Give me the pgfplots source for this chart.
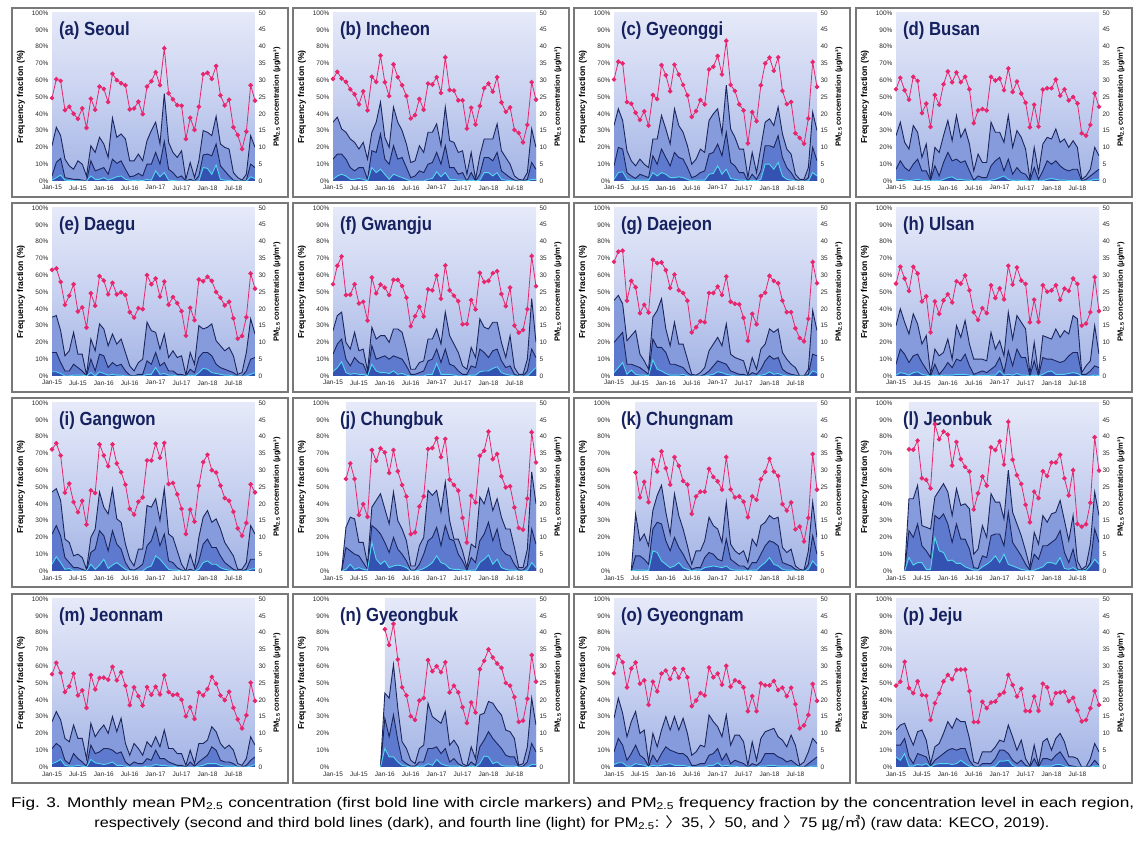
\documentclass[border=0pt]{standalone}
\usepackage{fontspec}
\setmainfont{Liberation Sans}
\newfontfamily\cjk{Noto Sans CJK KR}
\usepackage{pgfplots}
\pgfplotsset{compat=1.18}
\usepackage{pgfplotstable}
\usepackage{graphicx}

\definecolor{pinkc}{RGB}{232,38,110}
\definecolor{navyc}{RGB}{28,38,92}
\definecolor{cyanc}{RGB}{84,214,238}
\definecolor{f35}{RGB}{134,155,220}
\definecolor{f50}{RGB}{94,122,207}
\definecolor{f75}{RGB}{52,82,178}
\definecolor{bgtop}{RGB}{229,233,248}
\definecolor{bgmid}{RGB}{200,209,240}
\definecolor{bgbot}{RGB}{163,180,229}
\definecolor{titlec}{RGB}{22,34,96}
\definecolor{boxc}{RGB}{120,120,120}

\newcommand\rd[2]{\pgfplotstableread[row sep=\\]{y\\#2}#1}

% (a) Seoul
\rd\xaP{24.7\\30.3\\29.8\\21.1\\22.1\\20.0\\18.5\\21.6\\15.8\\24.5\\21.2\\28.1\\27.4\\23.5\\31.9\\30.0\\29.1\\28.5\\21.3\\21.6\\23.6\\19.9\\28.1\\29.7\\32.4\\28.5\\39.5\\26.1\\24.3\\22.6\\22.4\\12.5\\18.8\\15.2\\22.1\\31.8\\32.2\\30.4\\34.2\\25.5\\22.5\\24.2\\16.0\\13.7\\9.5\\14.7\\28.5\\23.9\\}
\rd\xaD{21\\32\\27\\13\\9\\7\\12\\10\\3\\21\\17\\26\\22\\14\\37.5\\26\\28\\25\\12\\12\\16\\12\\24\\30\\35\\22\\52\\23\\17\\14\\18\\1\\11\\2\\12\\30\\29\\27\\38.5\\22\\20\\19\\5\\2\\0.5\\4\\27\\20\\}
\rd\xaE{3\\11\\13.5\\2\\1.5\\1\\1\\0.5\\0\\12\\6\\7\\8\\4\\13\\10.5\\12\\7\\2.5\\3\\4.5\\3\\10\\10\\17\\10\\23.5\\7\\5\\2\\3\\0\\1\\0\\3\\15.5\\16\\15\\22\\9\\6\\3\\0.5\\0\\0\\0.5\\10\\8\\}
\rd\xaF{0.5\\2\\3.5\\0.5\\0.3\\0.2\\0\\0\\0\\3\\1\\1\\2\\0.5\\1.5\\2.5\\3\\1\\0.5\\0.3\\0.5\\0.2\\1\\0.5\\6\\2.5\\5\\0.5\\0.3\\0\\0\\0\\0\\0\\0\\8\\7.5\\4\\9.5\\1\\0.5\\0.3\\0\\0\\0\\0\\2.5\\1.5\\}
% (b) Incheon
\rd\xbP{30.4\\32.5\\30.5\\29.5\\27.3\\25.8\\22.8\\26.7\\21.0\\31.0\\29.5\\37.3\\29.4\\25.3\\34.7\\30.9\\28.5\\25.3\\18.6\\19.6\\24.4\\21.2\\29.0\\28.7\\30.9\\26.2\\36.8\\27.1\\26.9\\24.0\\24.0\\15.6\\21.8\\16.8\\22.3\\27.6\\29.0\\26.6\\30.9\\23.4\\20.6\\21.9\\15.2\\14.3\\11.5\\16.7\\29.4\\24.2\\}
\rd\xbD{35\\38\\31\\29\\25\\23\\19\\23\\13\\29\\35\\47\\26\\20\\44\\35\\30\\22\\11\\12\\21\\17\\29\\29\\34\\21\\44\\24\\23\\17\\18\\4\\17\\1\\15\\25\\25\\25\\34\\18\\14\\10\\3\\1\\0.5\\5\\31\\20\\}
\rd\xbE{13\\16\\16\\13\\8\\6\\8\\8\\1\\18\\17\\28\\13\\10\\21\\13\\14\\8\\2\\3\\6\\5\\10\\11\\17\\10\\21\\8\\8\\4\\5\\0\\5\\0\\4\\14\\14\\12\\17\\6\\4\\2\\0.5\\0\\0\\1\\11\\7\\}
\rd\xbF{1\\3\\4\\3\\1\\1\\1.5\\1\\0\\8\\5\\7\\4\\1\\4\\3\\2\\1\\0\\0\\0\\0\\1\\1.5\\5.5\\2.5\\5\\1\\1\\0.5\\0.5\\0\\0.5\\0\\0.5\\5\\5\\3\\5\\1\\0.5\\0.2\\0\\0\\0\\0\\1\\1\\}
% (c) Gyeonggi
\rd\xcP{30.2\\35.5\\35\\23.5\\23\\20.3\\18.2\\20.7\\16.5\\25.6\\24.4\\34.5\\31.5\\26.7\\34.6\\31.7\\28.6\\25.5\\19.1\\20.8\\24.1\\22.8\\33.2\\34.0\\37.2\\31.7\\41.7\\28.6\\26.8\\22.8\\21.0\\11.2\\20.5\\17.8\\28.5\\35.0\\36.7\\32.8\\36.8\\26.8\\22.9\\23.5\\14.2\\12.8\\11.1\\18.6\\35.4\\28.0\\}
\rd\xcD{33\\43\\36\\18\\12\\9\\13\\10\\8\\25\\25\\39\\31\\22\\43\\33\\29\\21\\10\\13\\19\\17\\36\\40\\43\\28\\57\\31\\26\\19\\19\\2\\17\\5\\20\\35\\37\\33\\44\\28\\19\\16\\4\\1\\1\\8\\41\\30\\}
\rd\xcE{9\\20\\19\\5\\3\\1.5\\4\\3\\2\\15\\10\\19\\14\\9\\17\\14\\13\\8\\2\\3\\5\\6\\16\\17\\22\\15\\29\\11\\9\\5\\5\\0\\4\\1\\6\\21\\21\\20\\27\\14\\8\\5\\1\\0\\0\\2\\20\\12\\}
\rd\xcF{1\\5\\5.5\\1\\0.5\\0.5\\0.5\\0.5\\0.5\\5\\3\\5\\4\\2\\2\\2.5\\2\\1\\0\\0.5\\0.5\\0.5\\4\\4.5\\9\\4\\7\\1.5\\1\\0.5\\0.5\\0\\0.5\\0\\1\\10\\10\\7\\11\\3\\1\\0.5\\0\\0\\0\\0\\5\\3\\}
% (d) Busan
\rd\xdP{27.3\\30.7\\27\\24.2\\31.0\\29.8\\20.2\\23.0\\16.1\\25.6\\22.7\\28.8\\32.6\\29.4\\32.3\\29.4\\31.0\\27.3\\17.2\\21.0\\21.4\\21.0\\31.0\\29.9\\30.5\\27.0\\33.5\\26.5\\29.6\\26.0\\23.3\\16.0\\22.7\\16.2\\27.2\\27.6\\27.6\\30.2\\25.4\\27.3\\24.0\\25.0\\23.1\\14.2\\13.5\\16.7\\26.1\\22.1\\}
\rd\xdD{27\\35\\23\\19\\33\\29\\14\\22\\1\\20\\17\\27\\36\\24\\39\\26\\31\\22\\6\\16\\11\\11\\35\\29\\29\\23\\39\\20\\30\\26\\19\\1\\20\\5\\22\\26\\25\\31\\23\\25\\20\\24\\20\\1\\3\\7\\20\\15\\}
\rd\xdE{7\\12\\8\\6\\10\\13\\6\\6\\0.5\\9\\3\\11\\17\\12\\13\\11\\12\\6\\0.5\\3\\2\\2\\9\\12\\14\\6\\13\\4\\8\\5\\4\\0\\8\\1\\6\\12\\10\\12\\9\\7\\6\\7\\7\\0\\1\\3\\5\\7\\}
\rd\xdF{0.5\\1\\0.5\\0.2\\0.5\\1\\0.5\\0.2\\0\\0.5\\0\\1\\2\\2.5\\1\\1\\0.5\\0.5\\0\\0.2\\0\\0\\0.5\\1\\2\\3\\1\\0.3\\0.5\\0.3\\0.2\\0\\0.5\\0\\0.2\\1\\1.5\\1\\0.5\\0.5\\0.3\\0.2\\0.2\\0\\0\\0.2\\1\\1\\}
% (e) Daegu
\rd\xeP{31.6\\32.0\\28\\21.2\\23.9\\27.3\\19.2\\20.4\\14.4\\24.6\\20.9\\29.7\\28.4\\24.3\\27.7\\24.3\\24.9\\24.1\\19.0\\17.4\\20.2\\19.9\\30.0\\27.3\\29.0\\23.6\\28.1\\21.2\\23.5\\21.7\\19.3\\12.0\\20.3\\16.6\\28.7\\28.2\\29.5\\28.3\\25.0\\23.3\\21.0\\22.1\\17.2\\11.1\\11.9\\17.5\\30.5\\26.0\\}
\rd\xeD{35\\36\\27\\12\\15\\26\\13\\13\\0.5\\22\\15\\31\\28\\18\\25\\19\\22\\14\\6\\3\\8\\10\\32\\27\\26\\16\\25\\11\\15\\11\\12\\0.5\\14\\7\\30\\28\\29\\31\\21\\18\\15\\17\\12\\1\\2\\14\\34\\25\\}
\rd\xeE{14\\14\\8\\3\\3\\7\\5\\3\\0\\10\\3\\13\\12\\5\\8\\6\\7\\3\\0.5\\0\\1\\1\\9\\7\\14\\6\\8\\3\\3\\1\\1\\0\\4\\2\\11\\14\\14\\12\\7\\5\\4\\3\\2\\0\\0\\3\\10\\11\\}
\rd\xeF{2.5\\2.5\\1.5\\0\\0\\0.5\\0.5\\0.5\\0\\2\\0\\2.5\\1.5\\0.5\\1\\0.5\\0.5\\0\\0\\0\\0\\0\\1\\1\\5\\1\\1.5\\0.5\\0.5\\0\\0\\0\\0.5\\0\\2\\4.5\\4\\2\\1.5\\1\\0.5\\0.5\\0\\0\\0\\0\\1\\2\\}
% (f) Gwangju
\rd\xfP{27.3\\32.8\\35.6\\24.1\\24.2\\27.3\\21.6\\22.1\\16.5\\29.3\\24.6\\27.2\\26.3\\24.1\\28.6\\28.6\\26.8\\23.3\\14.8\\17.8\\20.6\\17.7\\25.8\\25.5\\29.9\\23.0\\32.9\\25.5\\23.9\\22.3\\15.4\\15.5\\22.6\\19.8\\30.7\\28.0\\28.3\\30.6\\31.2\\24.4\\20.8\\26.3\\15.0\\12.9\\13.7\\19.9\\35.7\\26.7\\}
\rd\xfD{27\\36\\38\\20\\16\\26\\15\\16\\3\\29\\22\\24\\24\\20\\28\\28\\26\\16\\4\\4\\8\\9\\22\\22\\28\\19\\38\\24\\19\\14\\6\\4\\17\\11\\34\\29\\28\\32\\32\\20\\11\\24\\5\\1\\1\\10\\46\\20\\}
\rd\xfE{13\\19\\22\\10\\6\\11\\8\\7\\1\\18\\10\\11\\12\\10\\12\\11\\10\\6\\1\\1\\2\\3\\9\\10\\16\\8\\16\\7\\6\\3\\1\\1\\6\\5\\16\\14\\11\\15\\16\\9\\5\\6\\1\\0\\0\\3\\16\\11\\}
\rd\xfF{2.5\\5\\8.5\\2\\1\\1.5\\1\\1\\0\\7\\3\\2\\2\\1.5\\3\\1\\1.5\\0.5\\0\\0\\0\\0\\1\\1\\7.5\\1\\1\\1\\0.5\\0\\0\\0\\0.5\\0.5\\2.5\\3\\3\\4.5\\5.5\\2\\1\\0.5\\0\\0\\0\\0\\2.5\\5\\}
% (g) Daejeon
\rd\xgP{34.0\\37.0\\37.3\\22.4\\28.3\\26.4\\18.7\\21.2\\18.9\\34.6\\33.6\\33.8\\31.5\\26.2\\30.2\\25.5\\24.7\\22.4\\13.0\\14.5\\16.3\\16.0\\24.7\\24.7\\26.6\\24.1\\29.6\\22.1\\21.5\\21.3\\17.3\\10.5\\18.5\\15.4\\23.8\\24.8\\29.8\\28.3\\27.6\\22.4\\19.0\\19.0\\14.2\\11.3\\10.3\\17.0\\33.9\\27.6\\}
\rd\xgD{45\\48\\43\\21\\24\\27\\13\\9\\4\\35\\39\\46\\28\\18\\32\\19\\19\\10\\1\\0.5\\2\\5\\15\\19\\23\\18\\31\\13\\11\\10\\9\\0.5\\11\\4\\16\\19\\28\\26\\28\\14\\10\\7\\5\\0\\0\\4\\39\\27\\}
\rd\xgE{20\\23\\26\\7\\7\\6\\5\\3\\1\\22\\17\\17\\14\\7\\7\\6\\5\\2\\0\\0\\0\\1\\3\\6\\9\\8\\7\\3\\2\\1\\1\\0\\2\\1\\4\\9\\12\\10\\11\\4\\2\\1\\0.5\\0\\0\\1\\13\\12\\}
\rd\xgF{2\\5\\8\\1\\3.5\\1\\0.5\\0.5\\0\\9.5\\4\\3\\1.5\\0.5\\0.5\\0.5\\1\\0\\0\\0\\0\\0\\0.5\\1\\2.5\\2\\1\\0.5\\0\\0\\0\\0\\0\\0\\0.5\\1\\2.5\\1\\1.5\\0.5\\0\\0\\0\\0\\0\\0\\3\\2\\}
% (h) Ulsan
\rd\xhP{27.5\\32.5\\29\\25.3\\32.5\\30.5\\22.2\\23.7\\13.0\\22.2\\18.5\\22.5\\24.3\\21.9\\28.2\\27.5\\29.9\\25.5\\19.0\\16.7\\20.2\\18.7\\27.0\\23.2\\26.1\\22.8\\32.8\\27.2\\32.3\\28.4\\27.4\\16.0\\22.7\\16.1\\27.0\\25.1\\25.5\\27.0\\22.7\\26.0\\25.3\\29.0\\27.4\\15.0\\15.6\\19.0\\29.4\\19.3\\}
\rd\xhD{30\\40\\32\\25\\37\\31\\19\\24\\1\\16\\12\\14\\22\\10\\30\\23\\33\\19\\10\\10\\10\\9\\26\\16\\21\\12\\38\\22\\36\\32\\28\\1\\20\\1\\24\\23\\22\\28\\23\\27\\25\\36\\34\\2\\6\\9\\30\\13\\}
\rd\xhE{7\\16\\13\\8\\12\\13\\8\\4\\0\\7\\1\\4\\8\\5\\10\\9\\13\\6\\1\\2\\3\\2\\4\\6\\11\\2\\15\\6\\16\\11\\11\\0\\9\\0\\11\\10\\10\\9\\8\\9\\12\\14\\14\\1\\1\\3\\6\\5\\}
\rd\xhF{0.5\\2\\1.5\\0.5\\2\\2.5\\1\\0.5\\0\\0.5\\0\\0.5\\0.5\\0.5\\1\\1\\1\\0.5\\0\\0.2\\0.2\\0.2\\0.5\\0.5\\3\\0.5\\1\\0.5\\1.5\\0.5\\0.5\\0\\0.5\\0\\1\\2.5\\3\\1\\1\\1\\1.5\\2\\1.5\\0\\0\\0\\0.5\\0.3\\}
% (i) Gangwon
\rd\xiP{36.2\\38.0\\34.4\\23.3\\26.0\\20.5\\17.5\\20.9\\13.8\\24.0\\23.2\\37.7\\34.4\\31.2\\37.7\\32.0\\29.4\\25.7\\18.5\\16.8\\20.6\\21.9\\32.9\\32.9\\37.9\\33.7\\38.1\\25.9\\26.2\\22.8\\18.5\\11.0\\18.3\\14.7\\25.4\\32.4\\34.6\\30.0\\29.3\\25.4\\21.7\\20.9\\17.6\\12.7\\10.5\\14.3\\25.8\\23.4\\}
\rd\xiD{47\\49\\42\\19\\17\\9\\10\\8\\1\\20\\25\\47\\38\\34\\49\\31\\29\\16\\7\\3\\13\\13\\39\\38\\43\\30\\49\\22\\20\\12\\4\\0\\10\\2\\20\\32\\36\\29\\31\\25\\17\\13\\9\\1\\1\\5\\27\\22\\}
\rd\xiE{22\\27\\21\\8\\5\\2\\2\\1\\0\\11\\13\\24\\21\\12\\24\\16\\13\\5\\1\\0.5\\2\\4\\15\\18\\26\\15\\22\\6\\5\\2\\0.5\\0\\1\\0\\6\\16\\19\\14\\14\\9\\5\\3\\1\\0\\0\\1\\7\\7\\}
\rd\xiF{4\\8.5\\5\\1\\1.5\\0\\0\\0\\0\\4\\1\\3.5\\7\\1.5\\3.5\\5\\3\\1\\0\\0\\0\\0\\2\\3\\9\\7\\4\\1\\0.5\\0.5\\0\\0\\0\\0\\1\\5\\6\\4\\4\\2\\1\\0.5\\0\\0\\0\\0\\1\\1.5\\}
% (j) Chungbuk  (from Apr-15)
\rd\xjP{27.4\\32.0\\27.4\\16.7\\19.9\\16.1\\36.0\\32.8\\36.5\\35.3\\29.2\\36.0\\29.7\\25.6\\22.2\\11.0\\11.5\\19.2\\22.2\\36.3\\36.6\\39.5\\33.9\\39.3\\27.2\\25.6\\23.9\\15.8\\8.5\\22.4\\20.4\\34.3\\35.8\\41.5\\33.3\\34.8\\28.2\\24.9\\25.2\\18.9\\12.8\\12.3\\21.6\\41.3\\32.3\\}
\rd\xjD{0\\0\\0\\26\\32\\31\\17\\17\\4\\38\\42\\46\\37\\28\\47\\30\\25\\18\\3\\3\\15\\20\\48\\45\\48\\35\\53\\30\\19\\19\\12\\2\\16\\14\\44\\40\\49\\36\\43\\32\\25\\25\\14\\2\\2\\13\\59\\40\\}
\rd\xjE{0\\0\\0\\14\\12\\10\\9\\5\\1\\27\\25\\22\\17\\11\\20\\13\\10\\6\\0.5\\0.5\\4\\10\\18\\20\\26\\15\\27\\19\\18\\10\\6\\0.5\\8\\5\\18\\22\\29\\18\\25\\13\\10\\9\\4\\0.5\\0.5\\3\\25\\16\\}
\rd\xjF{0\\0\\0\\1\\4\\1\\2\\1\\0.5\\17\\7\\4\\6\\2\\3\\3.5\\3\\2\\0\\0\\0.5\\1.5\\3\\5\\9\\5\\4\\1.5\\1\\1\\0.5\\0\\0.5\\0.5\\5\\7\\9.5\\4\\7\\2\\1\\0.5\\0.5\\0\\0\\0.5\\5\\2\\}
% (k) Chungnam (from Jun-15)
\rd\xkP{29.3\\21.9\\26.5\\20.5\\33.1\\29.6\\35.6\\30.6\\25.7\\33.9\\31.3\\26.8\\25.7\\17.0\\22.2\\23.6\\23.6\\30.4\\28.0\\26.7\\24.2\\33.9\\24.3\\21.9\\22.2\\20.6\\16.0\\22.2\\21.2\\27.3\\29.5\\33.4\\29.6\\28.3\\19.9\\18.0\\20.4\\12.4\\13.2\\8.8\\15.8\\34.8\\24.2\\}
\rd\xkD{0\\0\\0\\0\\0\\34\\18\\22\\15\\36\\45\\51\\35\\22\\46\\33\\25\\15\\4\\12\\12\\18\\32\\27\\25\\17\\41\\16\\12\\10\\12\\5\\19\\15\\27\\29\\33\\31\\32\\14\\11\\13\\3\\1\\0.5\\12\\41\\20\\}
\rd\xkE{0\\0\\0\\0\\0\\9\\9\\7\\4\\25\\29\\28\\18\\12\\20\\14\\10\\5\\1\\2\\2\\8\\11\\10\\7\\6\\19\\7\\5\\3\\3\\1\\5\\5\\10\\15\\18\\17\\15\\5\\4\\3\\1\\0\\0\\4\\21\\10\\}
\rd\xkF{0\\0\\0\\0\\0\\0.5\\0.5\\0.5\\0.2\\12\\11\\6\\4\\2\\3\\5\\2\\1\\0\\0.5\\0.5\\2\\2.5\\3\\2.5\\2\\3\\1\\0.5\\0.5\\0.5\\0\\0.5\\0.5\\3\\5\\8\\4\\3\\1\\0.5\\0.5\\0\\0\\0\\1\\6\\3\\}
% (l) Jeonbuk (from Apr-15)
\rd\xlP{36.2\\36.1\\38.8\\27.6\\27.1\\24.6\\43.7\\39.2\\41.5\\40.6\\31.4\\38.4\\33.3\\31.0\\29.6\\18.3\\23.1\\28.1\\25.4\\36.8\\36.0\\38.6\\31.7\\44.4\\33.1\\28.5\\25.9\\19.7\\14.5\\23.6\\21.7\\29.7\\28.3\\32.3\\32.3\\34.6\\27.6\\22.5\\30.0\\14.0\\13.2\\13.9\\20.3\\39.8\\29.9\\}
\rd\xlD{0\\0\\0\\43\\43\\51\\27\\26\\25\\44\\48\\52\\47\\33\\49\\39\\40\\37\\10\\13\\27\\20\\46\\41\\41\\31\\60\\35\\28\\21\\12\\2\\23\\16\\33\\29\\34\\35\\42\\30\\18\\33\\6\\1\\3\\16\\47\\33\\}
\rd\xlE{0\\0\\0\\24\\20\\28\\15\\12\\8\\33\\31\\34\\28\\17\\28\\19\\19\\13\\2\\1.5\\9\\8\\21\\22\\22\\15\\35\\17\\13\\9\\4\\0.5\\10\\7\\15\\15\\17\\19\\24\\11\\5\\13\\1\\0.5\\1\\5\\25\\17\\}
\rd\xlF{0\\0\\0\\8\\3.5\\5\\5\\1\\1\\20\\12\\11\\6\\6.5\\4.5\\4.5\\2.5\\1.5\\0.5\\0.5\\2.5\\4\\6\\9\\5\\10\\4\\3\\2\\1\\0.5\\0\\0.5\\1.5\\2.5\\5\\5\\4\\8\\1.5\\1\\2\\0.5\\0\\0.5\\3\\7\\4\\}
% (m) Jeonnam
\rd\xmP{27.6\\31.0\\28\\22.3\\24.0\\27.8\\21.3\\22.8\\17.6\\27.4\\23.1\\26.5\\26.6\\26.0\\29.8\\25.8\\28.2\\24.2\\18.4\\23.7\\21.1\\18.3\\23.8\\21.5\\23.9\\21.6\\27.3\\22.3\\21.4\\21.6\\20.0\\15.1\\17.8\\14.3\\22.2\\21.3\\23.2\\26.8\\24.8\\21.3\\19.9\\22.4\\17.6\\14.2\\11.5\\15.4\\25.1\\19.7\\}
\rd\xmD{27\\33\\28\\17\\15\\25\\17\\17\\5\\26\\18\\22\\25\\20\\30\\21\\29\\14\\7\\14\\11\\7\\15\\12\\18\\12\\22\\11\\11\\8\\8\\1\\10\\2\\14\\14\\16\\24\\21\\14\\11\\13\\10\\2\\1\\5\\18\\13\\}
\rd\xmE{11\\14\\12\\4\\2\\8\\5\\3\\0.5\\13\\8\\9\\11\\11\\10\\8\\9\\3\\1\\3\\2\\2\\5\\4\\10\\5\\5\\3\\2\\1\\1\\0\\3\\0.5\\3\\5\\7\\12\\10\\4\\3\\3\\2\\0\\0\\1\\4\\6\\}
\rd\xmF{2\\3\\4.5\\1\\0.5\\0.5\\1\\0.5\\0\\4.5\\2.5\\2\\1.5\\2\\3\\1\\1\\0.5\\0\\0\\0\\0\\0.5\\0.5\\1.5\\1\\1\\0.5\\0.5\\0\\0\\0\\0\\0\\0.5\\1\\2\\2\\2\\1\\0.5\\0.5\\0.5\\0\\0\\0\\0.5\\1.5\\}
% (n) Gyeongbuk (from Jan-16)
\rd\xnP{41.0\\36.3\\42.6\\32.0\\23.7\\21.3\\15.1\\14.0\\19.8\\20.5\\31.8\\28.5\\30.0\\28.2\\31.2\\22.2\\24.2\\22.2\\17.8\\13.1\\19.2\\16.2\\29.1\\31.6\\35.0\\32.6\\30.8\\29.5\\25.0\\24.2\\20.8\\13.4\\13.8\\20.3\\33.3\\25.4\\}
\rd\xnD{0\\0\\0\\0\\0\\0\\0\\0\\0\\0\\0\\0\\44\\41\\61\\35\\15\\11\\4\\2\\11\\13\\38\\30\\28\\26\\33\\13\\16\\12\\2\\0.5\\12\\5\\31\\32\\39\\38\\34\\31\\22\\21\\17\\1\\2\\12\\41\\25\\}
\rd\xnE{0\\0\\0\\0\\0\\0\\0\\0\\0\\0\\0\\0\\29\\18\\31\\16\\4\\2\\0.5\\0.5\\3\\3\\11\\11\\12\\8\\11\\3\\5\\2\\0.5\\0\\3\\1\\12\\16\\21\\17\\14\\11\\7\\6\\6\\0\\0.5\\3\\14\\9\\}
\rd\xnF{0\\0\\0\\0\\0\\0\\0\\0\\0\\0\\0\\0\\11\\6\\6\\3\\1\\0.5\\0\\0\\0.5\\0.5\\2\\1\\4.5\\2\\1\\0.5\\0.5\\0.5\\0\\0\\0.5\\0\\2\\6.5\\6\\2\\3\\1\\0.5\\0.5\\0.5\\0\\0\\0\\1.5\\1.5\\}
% (o) Gyeongnam
\rd\xoP{27.9\\33.1\\31.2\\23.7\\29.3\\31.1\\24.8\\25.8\\18.5\\25.4\\22.5\\27.8\\28.7\\26.2\\29.3\\26.6\\29.2\\26.7\\18.1\\19.8\\22.0\\21.3\\29.6\\26.7\\27.8\\24.5\\30.1\\23.9\\25.8\\25.3\\23.7\\16.6\\21.1\\16.6\\24.9\\24.3\\24.3\\25.6\\22.9\\23.6\\21.1\\23.6\\18.7\\11.5\\12.4\\15.5\\24.7\\19.7\\}
\rd\xoD{29\\41\\32\\18\\27\\33\\20\\22\\3\\20\\12\\22\\30\\22\\30\\22\\29\\20\\7\\9\\13\\12\\31\\27\\24\\18\\31\\13\\19\\19\\15\\1\\15\\4\\17\\21\\22\\23\\18\\16\\12\\19\\13\\1\\3\\9\\17\\14\\}
\rd\xoE{9\\17\\13\\4\\8\\13\\7\\5\\0.5\\7\\3\\8\\12\\10\\9\\8\\8\\6\\1\\1\\2\\2\\7\\8\\11\\4\\8\\2\\4\\3\\2\\0\\2\\1\\3\\8\\8\\8\\6\\5\\3\\4\\2\\0\\0\\2\\4\\6\\}
\rd\xoF{1.5\\2.5\\2.5\\0.5\\0.5\\2\\1.5\\1\\0\\1\\0.5\\1\\1.5\\2\\1\\1\\1\\0.5\\0\\0\\0\\0\\1\\1\\2.5\\0.5\\1\\0.5\\0.5\\0\\0\\0\\0\\0\\0.5\\0.5\\1\\1\\0.5\\0.5\\0.5\\0.5\\0.5\\0\\0\\0\\0.5\\0.5\\}
% (p) Jeju
\rd\xpP{24.2\\25.4\\31.3\\23.5\\22.0\\25.5\\21.4\\21.2\\14.0\\19.0\\21.9\\25.5\\27.4\\26.1\\28.9\\29.0\\29.0\\22.6\\13.4\\13.4\\19.4\\17.5\\19.2\\19.5\\21.5\\22.2\\27.4\\24.4\\21.0\\23.3\\16.7\\16.6\\21.0\\16.7\\24.8\\23.7\\18.8\\22.0\\22.2\\22.4\\19.6\\20.6\\16.9\\13.6\\14.0\\17.5\\22.6\\18.5\\}
\rd\xpD{22\\25\\26\\19\\13\\21\\22\\16\\2\\12\\14\\20\\27\\23\\29\\27\\27\\17\\3\\2\\9\\9\\9\\12\\16\\15\\25\\18\\10\\16\\5\\0.5\\13\\1\\15\\17\\10\\17\\20\\15\\6\\6\\5\\0\\0\\5\\14\\9\\}
\rd\xpE{13\\13\\17\\6\\2\\8\\7\\6\\0.5\\4\\6\\8\\10\\11\\10\\11\\11\\4\\0.5\\0\\2\\2\\2\\5\\10\\10\\8\\4\\2\\4\\1\\0\\5\\0\\5\\5\\4\\7\\9\\5\\1\\0.5\\0\\0\\0\\0.5\\4\\1\\}
\rd\xpF{6\\4\\8\\0.5\\0.5\\1.5\\1\\2\\0\\1.5\\2\\2\\2\\1.5\\2\\4\\2\\0.5\\0\\0\\0\\0\\0\\0.5\\3.5\\3.5\\4\\1\\0\\0\\0\\0\\0\\0\\0.5\\0.5\\0.5\\1.5\\1.5\\0.5\\0\\0\\0\\0\\0\\0\\0.5\\0.5\\}

\pgfplotsset{
  pan/.style={anchor=south west, scale only axis, width=203pt, height=168pt,
    xmin=0, xmax=47, axis line style={draw=none}, tick style={draw=none},
    /pgf/number format/assume math mode=true,
    tick label style={font=\fontsize{6.5}{7}\selectfont, text=black!85}},
  lefta/.style={pan, ymin=0, ymax=100, ytick={0,10,...,100},
    yticklabel={\pgfmathprintnumber{\tick}\%},
    xtick={0,6,...,42},
    xticklabels={Jan-15,Jul-15,Jan-16,Jul-16,Jan-17,Jul-17,Jan-18,Jul-18},
    xticklabel style={yshift=-1pt},
    ylabel={Frequency fraction (\%)},
    ylabel style={font=\bfseries\fontsize{8.6}{9}\selectfont,
      at={(axis description cs:-0.153,0.5)}, anchor=center}},
  righta/.style={pan, ymin=0, ymax=50, ytick={0,5,...,50},
    axis x line=none, axis y line*=right,
    ylabel={PM\textsubscript{2.5} concentration (μg/m³)},
    ylabel style={font=\bfseries\fontsize{7.6}{8}\selectfont,
      at={(axis description cs:1.108,0.5)}, anchor=center}},
}

\newcommand\panel[8]{%
\begin{axis}[lefta, at={(#1pt,#2pt)}]
  \fill[top color=bgtop, bottom color=bgbot, middle color=bgmid] (axis cs:#4,0) rectangle (axis cs:47,100);
  \addplot[draw=none, fill=f35, restrict x to domain=\the\numexpr#4-1\relax:47] table[x expr=\coordindex, y=y] {#6} \closedcycle;
  \addplot[draw=none, fill=f50, restrict x to domain=\the\numexpr#4-1\relax:47] table[x expr=\coordindex, y=y] {#7} \closedcycle;
  \addplot[draw=none, fill=f75, restrict x to domain=\the\numexpr#4-1\relax:47] table[x expr=\coordindex, y=y] {#8} \closedcycle;
  \addplot[navyc, line width=0.9pt, restrict x to domain=\the\numexpr#4-1\relax:47] table[x expr=\coordindex, y=y] {#6};
  \addplot[navyc, line width=0.9pt, restrict x to domain=\the\numexpr#4-1\relax:47] table[x expr=\coordindex, y=y] {#7};
  \addplot[cyanc, line width=0.9pt, restrict x to domain=\the\numexpr#4-1\relax:47] table[x expr=\coordindex, y=y] {#8};
\end{axis}
\begin{axis}[righta, at={(#1pt,#2pt)}]
  \addplot[pinkc, line width=0.8pt, mark=*, mark size=1.9pt,
    mark options={solid, fill=pinkc, draw=pinkc}] table[x expr=\coordindex+#4, y=y] {#5};
  \node[anchor=west, inner sep=0pt, text=titlec, font=\bfseries\fontsize{19}{19}\selectfont]
    at (rel axis cs:0.034,0.893) {\scalebox{0.88}[1]{#3}};
\end{axis}
}

\begin{document}
\begin{tikzpicture}
\useasboundingbox (0pt,0pt) rectangle (1145pt,843pt);
\foreach \L in {12,293,574,856}{
  \foreach \B in {646,451,256,60}{
    \draw[boxc, line width=1.1pt] (\L pt,\B pt) rectangle ++(276pt,189pt);
  }
}
\panel{52}{662}{(a) Seoul}{0}{\xaP}{\xaD}{\xaE}{\xaF}
\panel{333}{662}{(b) Incheon}{0}{\xbP}{\xbD}{\xbE}{\xbF}
\panel{614}{662}{(c) Gyeonggi}{0}{\xcP}{\xcD}{\xcE}{\xcF}
\panel{896}{662}{(d) Busan}{0}{\xdP}{\xdD}{\xdE}{\xdF}
\panel{52}{467}{(e) Daegu}{0}{\xeP}{\xeD}{\xeE}{\xeF}
\panel{333}{467}{(f) Gwangju}{0}{\xfP}{\xfD}{\xfE}{\xfF}
\panel{614}{467}{(g) Daejeon}{0}{\xgP}{\xgD}{\xgE}{\xgF}
\panel{896}{467}{(h) Ulsan}{0}{\xhP}{\xhD}{\xhE}{\xhF}
\panel{52}{272}{(i) Gangwon}{0}{\xiP}{\xiD}{\xiE}{\xiF}
\panel{333}{272}{(j) Chungbuk}{3}{\xjP}{\xjD}{\xjE}{\xjF}
\panel{614}{272}{(k) Chungnam}{5}{\xkP}{\xkD}{\xkE}{\xkF}
\panel{896}{272}{(l) Jeonbuk}{3}{\xlP}{\xlD}{\xlE}{\xlF}
\panel{52}{76}{(m) Jeonnam}{0}{\xmP}{\xmD}{\xmE}{\xmF}
\panel{333}{76}{(n) Gyeongbuk}{12}{\xnP}{\xnD}{\xnE}{\xnF}
\panel{614}{76}{(o) Gyeongnam}{0}{\xoP}{\xoD}{\xoE}{\xoF}
\panel{896}{76}{(p) Jeju}{0}{\xpP}{\xpD}{\xpE}{\xpF}

\node[anchor=base west, inner sep=0pt] at (11pt,36pt) {\resizebox{1123pt}{\height}{\fontsize{14}{16}\selectfont Fig. 3. Monthly mean PM\textsubscript{2.5} concentration (first bold line with circle markers) and PM\textsubscript{2.5} frequency fraction by the concentration level in each region,}};
\node[anchor=base, inner sep=0pt] at (572pt,16pt) {\resizebox{955pt}{\height}{\fontsize{14}{16}\selectfont respectively (second and third bold lines (dark), and fourth line (light) for PM\textsubscript{2.5}: {\cjk 〉}35, {\cjk 〉}50, and {\cjk 〉}75 {\cjk ㎍/㎥}) (raw data: KECO, 2019).}};
\end{tikzpicture}
\end{document}
